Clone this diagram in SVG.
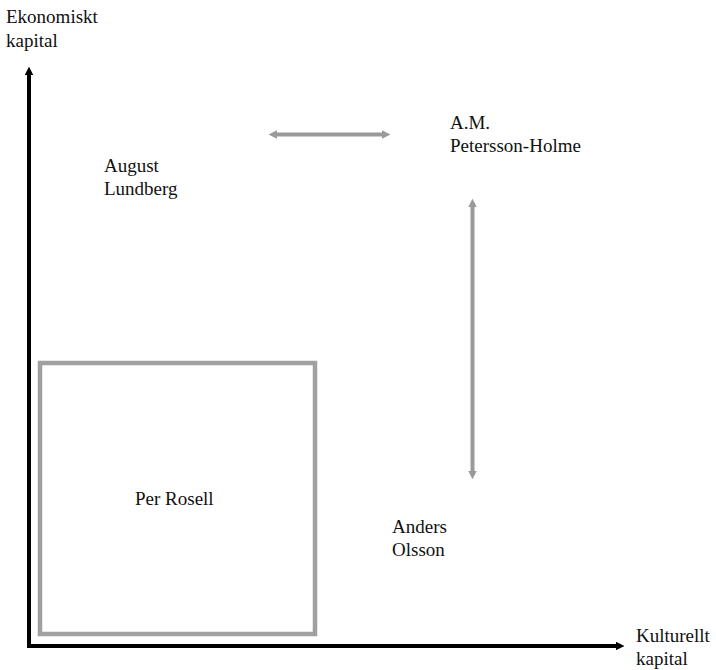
<svg xmlns="http://www.w3.org/2000/svg" width="716" height="670" viewBox="0 0 716 670">
<style>
text{font-family:"Liberation Serif","DejaVu Serif",serif;font-size:19px;fill:#111}
.axis{stroke:#000;stroke-width:4;fill:none}
.rel{stroke:#9a9a9a;stroke-width:4;fill:none}
</style>
<defs>
<marker id="ah" viewBox="0 0 10 10" refX="5" refY="5" markerWidth="2.2" markerHeight="2.2" orient="auto-start-reverse" markerUnits="strokeWidth"><path d="M0,0L10,5L0,10z" fill="#000"/></marker>
<marker id="gh" viewBox="0 0 10 10" refX="5" refY="5" markerWidth="2.2" markerHeight="2.2" orient="auto-start-reverse" markerUnits="strokeWidth"><path d="M0,0L10,5L0,10z" fill="#9a9a9a"/></marker>
</defs>
<rect width="716" height="670" fill="#fff"/>
<g id="connectors">
<path class="axis" d="M29,71V646H620" marker-start="url(#ah)" marker-end="url(#ah)"/>
<path class="rel" d="M273,134.5H386" marker-start="url(#gh)" marker-end="url(#gh)"/>
<path class="rel" d="M472.5,203V475" marker-start="url(#gh)" marker-end="url(#gh)"/>
</g>
<g id="axis-y-label"><text x="6" y="23">Ekonomiskt</text><text x="6" y="47">kapital</text></g>
<g id="axis-x-label"><text x="636" y="642">Kulturellt</text><text x="636" y="665">kapital</text></g>
<g id="august"><text x="104" y="172">August</text><text x="104" y="195">Lundberg</text></g>
<g id="am"><text x="450" y="129">A.M.</text><text x="450" y="152">Petersson-Holme</text></g>
<g id="per"><rect x="40" y="363" width="275" height="271" fill="none" stroke="#a0a0a0" stroke-width="4.5"/><text x="135" y="505">Per Rosell</text></g>
<g id="anders"><text x="392" y="533">Anders</text><text x="392" y="556">Olsson</text></g>
</svg>
